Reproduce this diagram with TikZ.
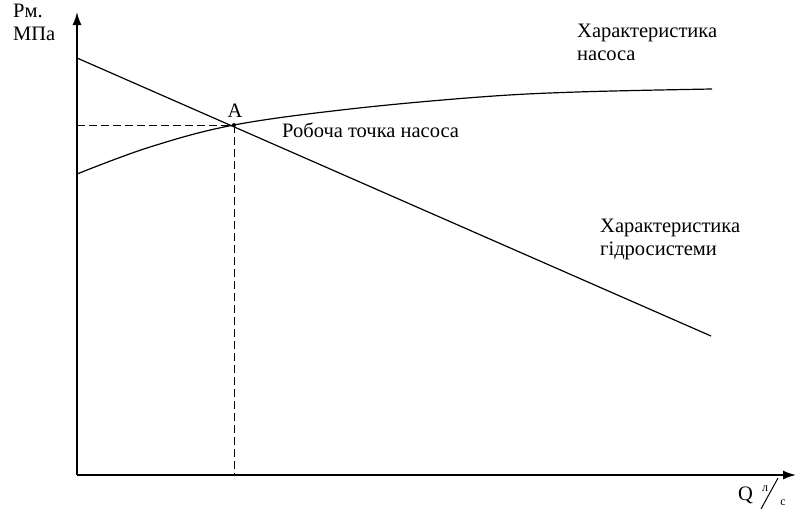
\documentclass[tikz,border=0pt]{standalone}
\usepackage{fontspec}
\setmainfont{Liberation Serif}
\usepackage{tikz}
\usetikzlibrary{positioning,calc,arrows.meta}

\begin{document}
\begin{tikzpicture}[x=1pt,y=-1pt,
    axis/.style={line width=1.6pt,-{Latex[length=13pt,width=9pt]}},
    curve/.style={line width=1.2pt},
    guide/.style={line width=1pt,dash pattern=on 8pt off 4pt},
    lbl/.style={inner sep=0pt,anchor=base west,align=left,font=\fontsize{20.5}{23}\selectfont},
    unit/.style={inner sep=0pt,font=\fontsize{12}{12}\selectfont}]

  \useasboundingbox (0,0) rectangle (796,509);

  \coordinate (O) at (77,475);
  \coordinate (Ytop) at (77,12);
  \coordinate (Xend) at (796,475);
  \coordinate (A) at (234,125);
  \coordinate (L0) at (77,58);
  \coordinate (L1) at (711,336);
  \coordinate (S0) at (761,509);
  \coordinate (S1) at (778,478);


  \draw[axis] (O) -- (Ytop);
  \draw[axis] (O) -- (Xend);

  \draw[guide] (A -| O) -- (A);
  \draw[guide] (A) -- (A |- O);

  % hydrosystem line
  \draw[curve] (L0) -- (L1);

  % pump curve
  \draw[curve] plot[smooth,tension=0.6] coordinates
     {(77,174) (150,147) (A) (350,109) (480,97) (577,92) (712,89)};

  \fill (A) circle (2pt);

  \node[lbl] (pm) at (13,40) {Рм.\\МПа};
  \node[lbl,anchor=base] (alab) at (235,117) {A};
  \node[lbl] (work) at (282,137) {Робоча точка насоса};
  \node[lbl] (pump) at (577,60) {Характеристика\\насоса};
  \node[lbl] (hydro) at (600,255) {Характеристика\\гідросистеми};

  % units Q l/s
  \node[lbl] (q) at (738,500) {Q};
  \node[unit] (ql) at (765,489) {л};
  \node[unit] (qc) at (783,503) {с};
  \draw[line width=1pt] (S0) -- (S1);

\end{tikzpicture}
\end{document}
